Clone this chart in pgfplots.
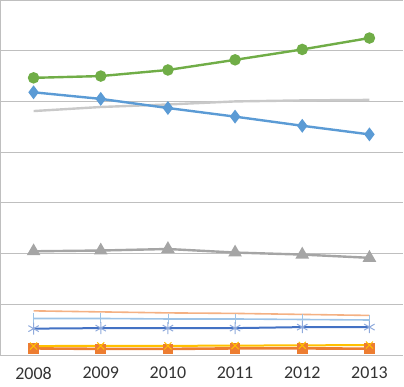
\documentclass[border=0pt]{standalone}
\usepackage{pgfplots}
\pgfplotsset{compat=1.18}
\usepackage{fontspec}
\setmainfont{Carlito}
\definecolor{cgreen}{HTML}{70AD47}
\definecolor{cblue}{HTML}{5B9BD5}
\definecolor{cgray}{HTML}{A5A5A5}
\definecolor{clgray}{HTML}{C9C9C9}
\definecolor{csalmon}{HTML}{F4B183}
\definecolor{clblue}{HTML}{9DC3E6}
\definecolor{cdblue}{HTML}{4472C4}
\definecolor{cstar}{HTML}{8FAADC}
\definecolor{cgold}{HTML}{FFC000}
\definecolor{corange}{HTML}{ED7D31}
\definecolor{cgrid}{HTML}{BFBFBF}
\begin{document}
\begin{tikzpicture}
\begin{axis}[name=ax,
  scale only axis, width=403bp, height=355bp,
  xmin=-0.5, xmax=5.5, ymin=0, ymax=700,
  xtick={0,1,2,3,4,5},
  xticklabels={2008,2009,2010,2011,2012,2013},
  ytick={0,100,...,700}, yticklabels={},
  ymajorgrids, grid style={cgrid, line width=0.8bp},
  axis line style={cgrid, line width=0.8bp},
  axis x line*=bottom, axis y line*=left,
  major tick length=0pt,
  tick style={draw=none},
  xticklabel style={font=\fontsize{18}{18}\selectfont, text=black!80, yshift=-11bp, inner sep=1bp},
  clip=false,
]
\addplot[csalmon, line width=1.6bp] coordinates {(0,87) (1,85) (2,83) (3,82) (4,80) (5,78)};
\addplot[clblue, line width=1.6bp, mark=|, mark size=5bp, mark options={line width=0.6bp}] coordinates {(0,72) (1,72) (2,71) (3,71) (4,70) (5,69)};
\addplot[cdblue, line width=2bp, mark=asterisk, mark size=6bp, mark options={cstar, line width=1bp}] coordinates {(0,52) (1,53) (2,53) (3,53) (4,55) (5,55)};
\addplot[corange, line width=2.6bp, mark=square*, mark size=4bp] coordinates {(0,13) (1,12) (2,12) (3,13) (4,13) (5,12.5)};
\addplot[cgold, line width=2bp, mark=x, mark size=5bp, mark options={line width=1bp}] coordinates {(0,17.6) (1,18) (2,18) (3,18.5) (4,19) (5,19.6)};
\addplot[cgray, line width=2.4bp, mark=triangle*, mark size=5.5bp] coordinates {(0,204.5) (1,206) (2,209) (3,202) (4,198) (5,191.6)};
\addplot[clgray, line width=2.4bp] coordinates {(0,481) (1,489) (2,494) (3,500) (4,502) (5,503)};
\addplot[cblue, line width=2.4bp, mark=diamond*, mark size=5bp] coordinates {(0,518) (1,505) (2,487) (3,470) (4,452) (5,435)};
\addplot[cgreen, line width=2.4bp, mark=*, mark size=4.5bp] coordinates {(0,546.5) (1,550) (2,562) (3,582) (4,602.5) (5,625)};
\end{axis}
\pgfresetboundingbox
\path[use as bounding box] ([yshift=-32bp]ax.south west) rectangle ([xshift=1bp]ax.north east);
\end{tikzpicture}
\end{document}
